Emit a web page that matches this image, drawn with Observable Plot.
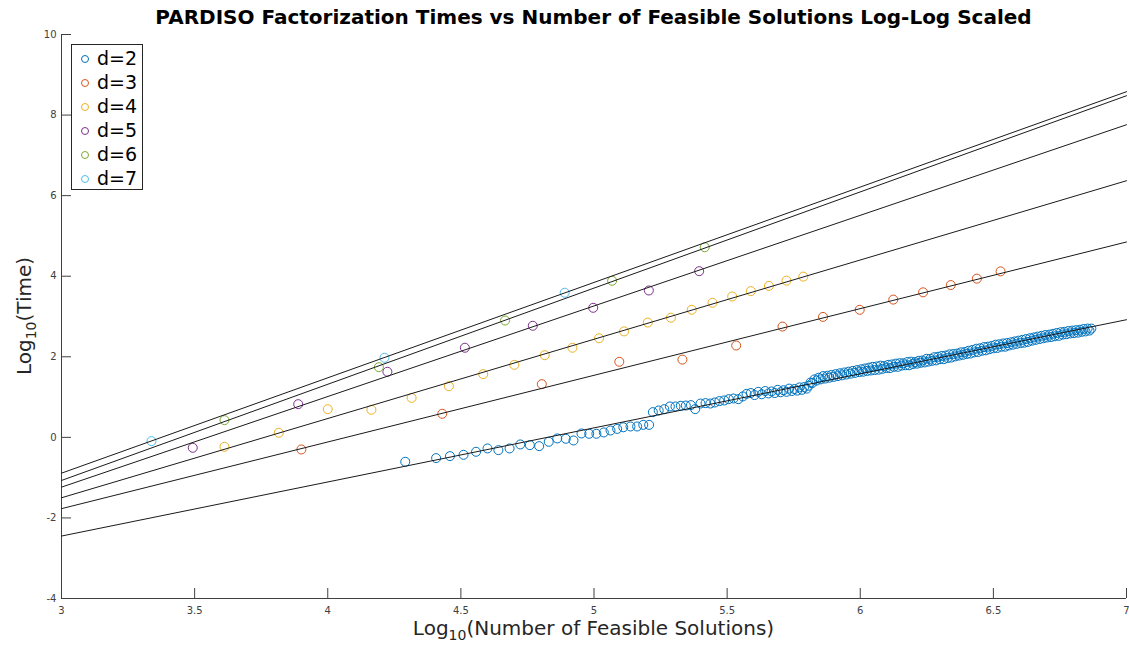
<!DOCTYPE html>
<html>
<head>
<meta charset="utf-8">
<script src="https://cdn.jsdelivr.net/npm/d3@7"></script>
<script src="https://cdn.jsdelivr.net/npm/@observablehq/plot@0.6"></script>
<style>
  html, body { margin: 0; padding: 0; background: #fff; }
  #wrap { position: relative; width: 1129px; height: 647px; overflow: hidden; font-family: "DejaVu Sans", sans-serif; }
  #chart { position: absolute; left: 0; top: 0; }
  .title { position: absolute; left: 61px; width: 1065px; top: 5px; text-align: center; font-weight: bold; font-size: 20px; color: #000; white-space: nowrap; }
  .xlabel { position: absolute; left: 61px; width: 1065px; top: 616px; text-align: center; font-size: 20px; color: #262626; white-space: nowrap; }
  .ylabel { position: absolute; left: 24px; top: 316px; transform: translate(-50%, -50%) rotate(-90deg); font-size: 20px; color: #262626; white-space: nowrap; }
  sub { font-size: 0.7em; vertical-align: -0.35em; line-height: 0; }
  .legend { position: absolute; left: 71px; top: 44px; width: 72px; height: 146px; border: 1px solid #262626; background: #fff; box-sizing: border-box; }
  .legend .row { position: absolute; left: 0; height: 24px; width: 100%; }
  .legend .mk { position: absolute; left: 9px; top: 8px; width: 6px; height: 6px; border-radius: 50%; border: 1px solid; }
  .legend .tx { position: absolute; left: 25px; top: -1px; font-size: 19px; line-height: 24px; color: #000; }
</style>
</head>
<body>
<div id="wrap">
  <div id="chart"></div>
  <div class="title">PARDISO Factorization Times vs Number of Feasible Solutions Log-Log Scaled</div>
  <div class="xlabel">Log<sub>10</sub>(Number of Feasible Solutions)</div>
  <div class="ylabel">Log<sub>10</sub>(Time)</div>
  <div class="legend" id="legend"></div>
</div>
<script>
// ---------- data ----------
const seriesNames = ["d=2", "d=3", "d=4", "d=5", "d=6", "d=7"];
const seriesColors = ["#0072BD", "#D95319", "#EDB120", "#7E2F8E", "#77AC30", "#4DBEEE"];

const d2x = [4.291,4.407,4.459,4.510,4.557,4.600,4.641,4.683,4.723,4.759,4.794,4.830,4.862,4.894,4.923,4.953,4.982,5.009,5.037,5.062,5.087,5.110,5.137,5.162,5.185,5.207,
  5.221,5.243,5.264,5.285,5.306,5.326,5.345,5.364,5.380,5.400,5.419,5.437,5.454,5.471,5.489,5.506,5.524,5.542,5.559,5.573,
  5.589,5.603,5.617,5.630,5.643,5.655,5.667,5.679,5.690,5.701,5.712,5.723,5.733,5.743,5.753,5.763,5.772,5.781,5.790,5.799,
  5.806,5.813,5.820,5.828,5.836,5.844,5.852,5.860,5.868,5.876,5.884,5.892,5.900,5.908,5.916,5.924,5.932,5.940,5.948,5.956,5.964,5.972,5.980,5.988,5.996,
  6.004,6.011,6.018,6.026,6.033,6.040,6.047,6.054,6.062,6.069,6.076,6.083,6.090,6.098,6.105,6.112,6.119,6.126,6.134,6.141,6.148,6.155,6.162,6.170,6.177,6.184,6.191,6.198,
  6.206,6.213,6.220,6.227,6.234,6.242,6.249,6.256,6.263,6.270,6.278,6.285,6.292,6.299,6.306,6.314,6.321,6.328,6.335,6.342,6.350,6.357,6.364,6.371,6.378,6.386,6.393,6.400,
  6.407,6.414,6.422,6.429,6.436,6.443,6.450,6.458,6.465,6.472,6.479,6.486,6.494,6.501,6.508,6.515,6.522,6.530,6.537,6.544,6.551,6.558,6.566,6.573,6.580,6.587,6.594,6.602,
  6.609,6.616,6.623,6.630,6.638,6.645,6.652,6.659,6.666,6.674,6.681,6.688,6.695,6.702,6.710,6.717,6.724,6.731,6.738,6.746,6.753,6.760,6.767,6.774,6.782,6.789,6.796,6.803,
  6.810,6.818,6.825,6.832,6.839,6.846,6.854,6.861,6.868];
const d2y = [-0.606,-0.515,-0.466,-0.433,-0.358,-0.275,-0.317,-0.275,-0.176,-0.193,-0.218,-0.110,-0.027,-0.035,-0.077,0.097,0.089,0.089,0.122,0.170,0.210,0.25,0.27,0.27,0.31,0.31,
  0.626,0.667,0.70,0.767,0.767,0.784,0.79,0.80,0.70,0.84,0.85,0.84,0.866,0.90,0.916,0.948,0.965,0.948,1.015,1.08,
  1.10,1.05,1.13,1.07,1.15,1.09,1.14,1.10,1.18,1.12,1.17,1.13,1.21,1.15,1.20,1.16,1.24,1.18,1.25,1.21,
  1.28,1.36,1.35,1.44,1.41,1.48,1.44,1.52,1.46,1.53,1.48,1.55,1.50,1.57,1.52,1.59,1.54,1.61,1.56,1.63,1.58,1.65,1.60,1.67,1.62,
  1.69,1.63,1.71,1.65,1.73,1.66,1.75,1.67,1.76,1.68,1.78,1.70,1.77,1.72,1.80,1.72,1.81,1.75,1.83,1.75,1.84,1.78,1.84,1.79,1.87,1.79,1.88,1.82,
  1.87,1.83,1.90,1.85,1.91,1.86,1.95,1.88,1.95,1.90,1.99,1.91,2.00,1.94,2.02,1.94,2.03,1.97,2.06,1.98,2.07,2.01,2.08,2.03,2.11,2.05,2.12,2.07,
  2.15,2.08,2.17,2.11,2.20,2.12,2.21,2.15,2.24,2.16,2.25,2.19,2.27,2.21,2.30,2.22,2.31,2.25,2.33,2.25,2.34,2.28,2.36,2.30,2.38,2.32,2.40,2.34,
  2.42,2.35,2.44,2.37,2.46,2.40,2.48,2.42,2.50,2.44,2.52,2.46,2.54,2.48,2.55,2.49,2.57,2.51,2.59,2.52,2.61,2.55,2.62,2.56,2.64,2.58,2.65,2.59,
  2.66,2.60,2.67,2.62,2.69,2.63,2.70,2.65,2.70];

const d3x = [3.901,4.430,4.804,5.095,5.332,5.534,5.708,5.860,5.998,6.124,6.236,6.340,6.438,6.527];
const d3y = [-0.30,0.585,1.32,1.876,1.93,2.28,2.75,2.99,3.167,3.42,3.60,3.78,3.94,4.12];

const d4x = [3.612,3.816,4.000,4.164,4.315,4.455,4.584,4.701,4.815,4.919,5.019,5.113,5.202,5.289,5.367,5.445,5.519,5.589,5.657,5.723,5.786];
const d4y = [-0.234,0.113,0.70,0.685,0.98,1.27,1.569,1.80,2.04,2.224,2.46,2.63,2.85,2.97,3.167,3.34,3.497,3.63,3.76,3.89,3.99];

const d5x = [3.493,3.889,4.224,4.515,4.770,4.997,5.206,5.395];
const d5y = [-0.259,0.824,1.628,2.224,2.77,3.216,3.646,4.125];

const d6x = [3.612,4.192,4.666,5.068,5.416];
const d6y = [0.427,1.742,2.90,3.887,4.72];

const d7x = [3.338,4.213,4.890];
const d7y = [-0.094,1.976,3.59];

// least-squares fit lines, value at x = 3 and x = 7 (d=2 ... d=7)
const fitX = [3, 7];
const fitAt3 = [-2.45, -1.77, -1.50, -1.236, -1.07, -0.889];
const fitAt7 = [2.92, 4.85, 6.37, 7.76, 8.48, 8.58];

const xTicks = [3, 3.5, 4, 4.5, 5, 5.5, 6, 6.5, 7];
const yTicks = [-4, -2, 0, 2, 4, 6, 8, 10];

// ---------- build tables ----------
const xs = [d2x, d3x, d4x, d5x, d6x, d7x];
const ys = [d2y, d3y, d4y, d5y, d6y, d7y];
const points = [];
xs.forEach((arr, i) => arr.forEach((x, j) => points.push({series: seriesNames[i], x, y: ys[i][j]})));
const fits = [];
seriesNames.forEach((s, i) => {
  fits.push({series: s, x: fitX[0], y: fitAt3[i]});
  fits.push({series: s, x: fitX[1], y: fitAt7[i]});
});

const W = 1129, H = 647;
const mL = 61, mR = 3, mT = 34, mB = 49;
const frameW = W - mL - mR, frameH = H - mT - mB;
const tickLen = 10;
const axisColor = "#404040";

const chart = Plot.plot({
  width: W, height: H,
  marginLeft: mL, marginRight: mR, marginTop: mT, marginBottom: mB,
  style: {fontFamily: "DejaVu Sans, sans-serif", fontSize: "10px", color: axisColor, background: "#fff"},
  x: {domain: [3, 7]},
  y: {domain: [-4, 10]},
  color: {domain: seriesNames, range: seriesColors},
  marks: [
    Plot.axisX({ticks: xTicks, tickSize: 0, tickPadding: 8, tickFormat: d => String(d), label: null}),
    Plot.axisY({ticks: yTicks, tickSize: 0, tickPadding: 5, tickFormat: d => String(d), label: null}),
    Plot.ruleX(xTicks, {x: d => d, insetTop: frameH - tickLen, stroke: axisColor}),
    Plot.ruleY(yTicks, {y: d => d, insetRight: frameW - tickLen, stroke: axisColor}),
    Plot.ruleX([3], {stroke: axisColor}),
    Plot.ruleY([-4], {stroke: axisColor}),
    Plot.dot(points, {x: "x", y: "y", stroke: "series", r: 4.5, strokeWidth: 1}),
    Plot.line(fits, {x: "x", y: "y", z: "series", stroke: "#1a1a1a", strokeWidth: 1})
  ]
});
document.getElementById("chart").appendChild(chart);

// legend
const leg = document.getElementById("legend");
seriesNames.forEach((s, i) => {
  const row = document.createElement("div");
  row.className = "row";
  row.style.top = (2 + i * 24) + "px";
  row.innerHTML = `<span class="mk" style="border-color:${seriesColors[i]}"></span><span class="tx">${s}</span>`;
  leg.appendChild(row);
});
</script>
</body>
</html>
